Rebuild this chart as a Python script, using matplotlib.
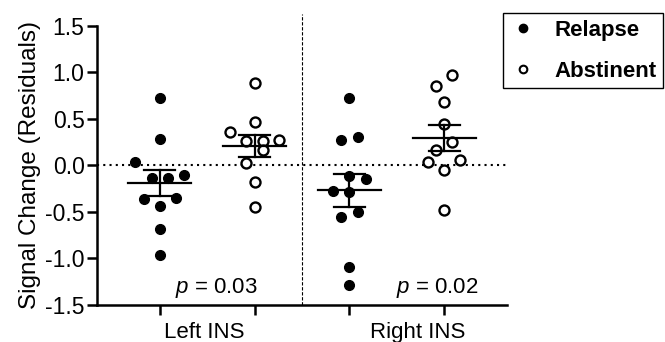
import numpy as np
import matplotlib
matplotlib.use("Agg")
import matplotlib.pyplot as plt
from matplotlib.lines import Line2D

plt.rcParams['font.family'] = ['Liberation Sans', 'DejaVu Sans']
plt.rcParams['axes.unicode_minus'] = False
plt.rcParams['mathtext.fontset'] = 'custom'
plt.rcParams['mathtext.it'] = 'Liberation Sans:italic'
plt.rcParams['mathtext.rm'] = 'Liberation Sans'

# values
left_relapse = [0.73, 0.29, 0.04, -0.10, -0.13, -0.13, -0.35, -0.36, -0.44, -0.68, -0.96]
left_abstinent = [0.89, 0.47, 0.36, 0.27, 0.26, 0.26, 0.17, 0.03, -0.18, -0.45]
right_relapse = [0.73, 0.31, 0.27, -0.11, -0.15, -0.27, -0.29, -0.50, -0.55, -1.09, -1.29]
right_abstinent = [0.97, 0.86, 0.68, 0.45, 0.25, 0.17, 0.06, 0.04, -0.05, -0.48]

groups = ["Left INS", "Right INS"]
p_values = ["0.03", "0.02"]
y_ticks = [-1.5, -1.0, -0.5, 0.0, 0.5, 1.0, 1.5]


def row_offsets(vals, row_h=0.175, step=0.17):
    # graphpad-like scatter: bin into rows from the bottom, spread each row
    vals = np.asarray(vals, dtype=float)
    order = np.argsort(vals, kind="stable")
    offs = np.zeros(len(vals))
    rows, cur = [], []
    for i in order:
        if cur and vals[i] - vals[cur[0]] > row_h + 1e-9:
            rows.append(cur)
            cur = []
        cur.append(i)
    rows.append(cur)
    for r in rows:
        n = len(r)
        if n % 2:
            slots = [0]
            for k in range(1, n // 2 + 1):
                slots += [-k, k]
        else:
            slots = []
            for k in range(n // 2):
                pair = [-(k + 0.5), k + 0.5]
                slots += pair if k % 2 == 0 else pair[::-1]
        for i, s in zip(r, slots):
            offs[i] = s * step
    return offs


fig = plt.figure(figsize=(6.65, 3.42), dpi=100)
ax = fig.add_axes([0.1459, 0.1082, 0.6165, 0.8158])

series = [(1, left_relapse, True), (2, left_abstinent, False),
          (3, right_relapse, True), (4, right_abstinent, False)]

ax.axhline(0, color="black", lw=1.5, ls=(0, (1, 2)), zorder=1)
ax.plot([2.5, 2.5], [-1.5, 1.63], color="black", lw=0.8, ls=(0, (3, 1.5)),
        clip_on=False, zorder=1)

for xpos, vals, filled in series:
    v = np.asarray(vals)
    x = xpos + row_offsets(v)
    if filled:
        ax.plot(x, v, "o", ms=7, color="black", mec="black", ls="none", zorder=3)
    else:
        ax.plot(x, v, "o", ms=7.2, mfc="white", mec="black", mew=1.7, ls="none", zorder=3)
    m = v.mean()
    sem = v.std(ddof=1) / np.sqrt(len(v))
    ax.plot([xpos - 0.33, xpos + 0.33], [m, m], color="black", lw=1.6, zorder=4)
    ax.plot([xpos - 0.16, xpos + 0.16], [m - sem, m - sem], color="black", lw=1.6, zorder=4)
    ax.plot([xpos - 0.16, xpos + 0.16], [m + sem, m + sem], color="black", lw=1.6, zorder=4)
    ax.plot([xpos, xpos], [m - sem, m + sem], color="black", lw=1.6, zorder=4)

for xc, p in zip([1.6, 3.93], p_values):
    ax.text(xc, -1.37, "$p$ = " + p, ha="center", va="baseline", fontsize=16)

ax.set_xlim(0.34, 4.66)
ax.set_ylim(-1.5, 1.5)
ax.set_yticks(y_ticks)
ax.set_yticklabels([f"{t:.1f}" for t in y_ticks])
ax.set_xticks([1, 2, 3, 4])
ax.set_xticklabels([])
ax.set_xticks([1.47, 3.72], minor=True)
ax.set_xticklabels(groups, minor=True)
ax.tick_params(axis="x", which="minor", length=0, pad=12, labelsize=16)
ax.tick_params(axis="both", which="major", length=7, width=1.8, labelsize=16)
ax.tick_params(axis="y", pad=2, labelsize=16.5)
ax.set_ylabel("Signal Change (Residuals)", fontsize=17.5, labelpad=3)

for s in ["top", "right"]:
    ax.spines[s].set_visible(False)
for s in ["left", "bottom"]:
    ax.spines[s].set_linewidth(1.8)

handles = [Line2D([], [], marker="o", ls="none", color="black", ms=6),
           Line2D([], [], marker="o", ls="none", mfc="white", mec="black", mew=1.5, ms=5.5)]
leg = fig.legend(handles, ["Relapse", "Abstinent"], loc="upper left",
                 bbox_to_anchor=(503 / 665, 1 - 13 / 342), frameon=True, fancybox=False,
                 edgecolor="black", framealpha=1, borderpad=0.3, borderaxespad=0,
                 handlelength=1.2, handletextpad=0.8, labelspacing=0.9,
                 prop={"size": 16, "weight": "bold"})
leg.get_frame().set_linewidth(1.0)

fig.savefig("out.png", dpi=100)
